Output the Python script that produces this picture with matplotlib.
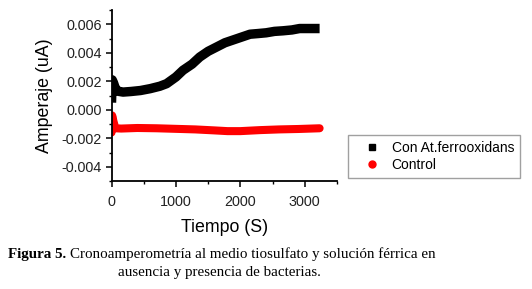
import matplotlib
matplotlib.use("Agg")
import matplotlib.pyplot as plt
from matplotlib.ticker import MultipleLocator, FormatStrFormatter
from matplotlib.lines import Line2D

# --- data ---
t_bact = [0, 10, 30, 60, 100, 180, 300, 450, 600, 750, 855, 1000, 1110, 1250, 1370,
          1500, 1630, 1760, 1890, 2020, 2150, 2280, 2400, 2530, 2660, 2800, 2920, 3080, 3230]
i_bact = [0.0005, 0.0021, 0.0019, 0.0015, 0.0013, 0.00124, 0.00128, 0.00135, 0.00148, 0.00165,
          0.00183, 0.0023, 0.00277, 0.0032, 0.0037, 0.0041, 0.0044, 0.0047, 0.0049, 0.0051,
          0.0053, 0.00535, 0.0054, 0.0055, 0.00554, 0.0056, 0.0057, 0.0057, 0.0057]

t_ctrl = [0, 10, 30, 60, 150, 400, 700, 1000, 1300, 1600, 1800, 2000, 2300, 2600, 2900, 3230]
i_ctrl = [-0.0016, -0.0004, -0.0008, -0.0013, -0.00132, -0.00128, -0.0013, -0.00134, -0.00138,
          -0.00145, -0.0015, -0.0015, -0.00143, -0.00138, -0.00135, -0.0013]

series_labels = ["Con At.ferrooxidans", "Control"]
x_label = "Tiempo (S)"
y_label = "Amperaje (uA)"
caption_bold = "Figura 5."
caption_rest = "Cronoamperometría al medio tiosulfato y solución férrica en"
caption_line2 = "ausencia y presencia de bacterias."

plt.rcParams['font.family'] = ['Liberation Sans', 'DejaVu Sans']

W, H = 532, 289
fig = plt.figure(figsize=(W/100, H/100), dpi=100)
ax = fig.add_axes([111.5/W, 1-181/H, (337-111.5)/W, (181-10)/H])

ax.plot(t_bact, i_bact, color='black', lw=6.8, solid_capstyle='butt', solid_joinstyle='round')
ax.plot(t_ctrl, i_ctrl, color='#ff0000', lw=5.8, solid_capstyle='round', solid_joinstyle='round')

ax.set_xlim(0, 3500)
ax.set_ylim(-0.005, 0.007)
ax.xaxis.set_major_locator(MultipleLocator(1000))
ax.xaxis.set_minor_locator(MultipleLocator(500))
ax.yaxis.set_minor_locator(MultipleLocator(0.001))
ax.yaxis.set_major_formatter(FormatStrFormatter('%.3f'))
ax.set_yticks([-0.004, -0.002, 0.0, 0.002, 0.004, 0.006])

for s in ['top', 'right']:
    ax.spines[s].set_visible(False)
for s in ['left', 'bottom']:
    ax.spines[s].set_linewidth(1.3)
ax.tick_params(which='major', direction='out', length=4, width=1.1, labelsize=10.4, colors='black')
ax.tick_params(axis='x', which='major', pad=6)
ax.tick_params(axis='y', which='major', pad=3)
ax.tick_params(which='minor', direction='out', length=2.5, width=1.0)
for lab in ax.get_yticklabels() + ax.get_xticklabels():
    lab.set_color('#222222')

ax.set_xlabel(x_label, fontsize=12.8, labelpad=7)
ax.set_ylabel(y_label, fontsize=12.8, labelpad=6)

handles = [Line2D([], [], ls='none', marker='s', color='black', markersize=4.5),
           Line2D([], [], ls='none', marker='o', color='#ff0000', markersize=5)]
leg = fig.legend(handles, series_labels, loc='upper left',
                 bbox_to_anchor=(348/W, 1-135/H), fontsize=10, frameon=True,
                 fancybox=False, edgecolor='#888888', handlelength=2.6, handletextpad=0.15,
                 borderpad=0.4, labelspacing=0.25, borderaxespad=0)
leg.get_frame().set_linewidth(1.0)

serif = ['Liberation Serif', 'DejaVu Serif']
cap_fs = 10.8
t1 = fig.text(8/W, 1-258/H, caption_bold, fontsize=cap_fs, family=serif, weight='bold',
              va='baseline', ha='left')
fig.canvas.draw()
bb = t1.get_window_extent(renderer=fig.canvas.get_renderer())
fig.text((bb.x1 + 4)/W, 1-258/H, caption_rest, fontsize=cap_fs, family=serif,
         va='baseline', ha='left')
fig.text(219/W, 1-276/H, caption_line2, fontsize=cap_fs, family=serif, va='baseline', ha='center')

fig.savefig('out.png', dpi=100)
